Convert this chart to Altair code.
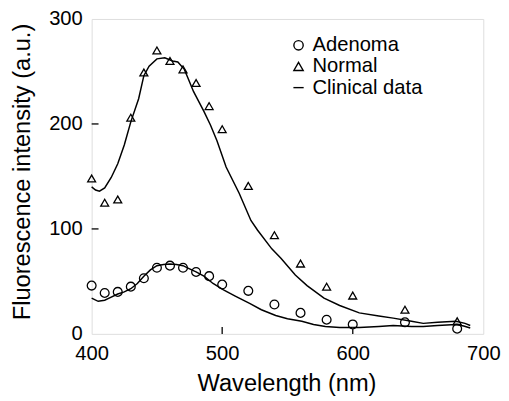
import altair as alt
import pandas as pd

# Measured points
wl_pts = [400, 410, 420, 430, 440, 450, 460, 470, 480, 490, 500, 520, 540, 560, 580, 600, 640, 680]
adenoma = [46, 39, 40, 45, 53, 63, 65, 63, 59, 55, 47, 41, 28, 20, 13.5, 9, 11, 5]
normal = [148, 125, 128, 206, 249, 270, 260, 252, 239, 217, 195, 141, 94, 67, 45, 36.5, 23, 12]

# Clinical data curves
clin_norm_wl = [400, 403, 406, 410, 415, 420, 425, 430, 436, 440, 444, 450, 456, 462, 466, 471, 474, 478, 486, 491, 496, 503, 513, 522, 527, 538, 545, 556, 565, 578, 590, 605, 620, 631, 645, 654, 665, 679, 686, 690]
clin_norm = [140, 137, 136, 139, 149, 162, 180, 202, 224, 246, 255, 262, 263, 260, 259, 252, 243, 231, 212, 199, 184, 159, 134, 108, 99, 81, 72, 56, 46, 34, 27, 20, 17, 15, 12, 10, 11, 12, 10, 8]
clin_aden_wl = [400, 405, 410, 415, 420, 425, 430, 435, 440, 445, 450, 455, 460, 465, 470, 475, 480, 486, 493, 501, 510, 521, 530, 541, 550, 561, 570, 579, 590, 605, 620, 631, 645, 654, 665, 679, 685, 690]
clin_aden = [34, 31, 32, 35, 38, 40, 43, 48, 55, 61, 65, 66, 66.5, 66, 65, 62, 59, 55, 48, 42, 36, 29, 23, 17.5, 14.5, 12, 9, 7, 6, 6, 7, 8, 7, 7, 8, 9, 7.5, 5.6]

tick_x = [500, 600]
tick_y = [100, 200]

pts = pd.DataFrame({
    "wl": wl_pts * 2,
    "val": adenoma + normal,
    "series": ["Adenoma"] * len(wl_pts) + ["Normal"] * len(wl_pts),
})
curves = pd.DataFrame({
    "wl": clin_aden_wl + clin_norm_wl,
    "val": clin_aden + clin_norm,
    "curve": ["a"] * len(clin_aden_wl) + ["n"] * len(clin_norm_wl),
})

W, H = 398, 320
FONT = "Liberation Sans"

xs = alt.Scale(domain=[400, 700], nice=False, zero=False)
ys = alt.Scale(domain=[0, 300], nice=False)

xaxis = alt.Axis(values=[400, 500, 600, 700], title="Wavelength (nm)", grid=False, domain=False,
                 ticks=False, tickSize=0, labelPadding=10, labelFontSize=20.5, labelFont=FONT,
                 labelColor="black", titleFontSize=24, titleFont=FONT, titleFontWeight="normal",
                 titleColor="black", titleBaseline="alphabetic", titleY=57.3, titleX=198,
                 labelFlush=False)
yaxis = alt.Axis(values=[0, 100, 200, 300], title="Fluorescence intensity (a.u.)", grid=False,
                 domain=False, ticks=False, tickSize=0, labelPadding=9.5, labelFontSize=20.5,
                 labelFont=FONT, labelColor="black", titleFontSize=24, titleFont=FONT,
                 titleFontWeight="normal", titleColor="black", titleBaseline="alphabetic",
                 titleX=-63, titleY=155, labelFlush=False)

lines = alt.Chart(curves).mark_line(color="black", strokeWidth=1.5).encode(
    x=alt.X("wl:Q", scale=xs, axis=xaxis),
    y=alt.Y("val:Q", scale=ys, axis=yaxis),
    detail="curve:N",
)

points = alt.Chart(pts).mark_point(filled=False, color="black", strokeWidth=1.3, opacity=1).encode(
    x=alt.X("wl:Q", scale=xs),
    y=alt.Y("val:Q", scale=ys),
    shape=alt.Shape("series:N",
                    scale=alt.Scale(domain=["Adenoma", "Normal", "Clinical data"],
                                    range=["circle", "triangle-up", "M-1.1,0L1.1,0"]),
                    legend=alt.Legend(title=None, orient="none", legendX=200, legendY=16.5,
                                      labelFontSize=20.5, labelFont=FONT, labelColor="black",
                                      symbolSize=90, symbolStrokeColor="black",
                                      symbolStrokeWidth=1.4, symbolFillColor="transparent",
                                      labelOffset=4, rowPadding=0.5, padding=0)),
    size=alt.Size("series:N", scale=alt.Scale(domain=["Adenoma", "Normal"], range=[80, 65]),
                  legend=None),
)

xt = alt.Chart(pd.DataFrame({"tx": tick_x})).mark_rule(color="#222", strokeWidth=1.5).encode(
    x=alt.X("tx:Q", scale=xs), y=alt.datum(0), y2=alt.datum(6.6))
yt = alt.Chart(pd.DataFrame({"ty": tick_y})).mark_rule(color="#222", strokeWidth=1.5).encode(
    y=alt.Y("ty:Q", scale=ys), x=alt.value(0), x2=alt.value(7))

chart = alt.layer(lines, points, xt, yt).properties(
    width=W, height=H,
    autosize=alt.AutoSizeParams(type="none"),
    padding={"left": 85, "top": 8, "right": 18, "bottom": 62},
).configure_view(stroke="#222", strokeWidth=1.5).configure(background="white")

chart.save("out.html", embed_options={"renderer": "svg", "actions": False})
